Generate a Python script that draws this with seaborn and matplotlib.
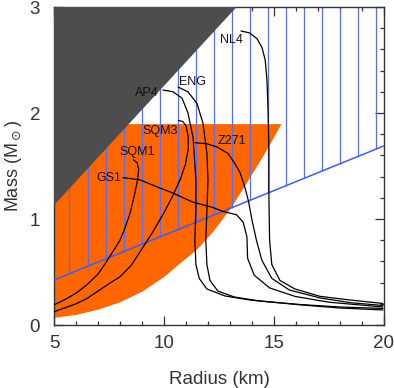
import numpy as np
import matplotlib
matplotlib.use("Agg")
import matplotlib.pyplot as plt
import seaborn as sns

# excluded corner (upper left)
dark_r = [5.0, 13.3, 5.0]
dark_m = [1.13, 3.0, 3.0]

# orange band: flat top, curved lower/right edge
orange_top = 1.9
orange_r = [15.32, 14.5, 13.7, 13.0, 12.2, 11.5, 10.8, 10.0, 9.0, 8.0, 7.0, 6.0, 5.0]
orange_m = [1.90, 1.60, 1.33, 1.10, 0.88, 0.72, 0.60, 0.46, 0.32, 0.22, 0.15, 0.10, 0.072]

# blue limit line and vertical hatching above it
blue_r = [5.0, 20.0]
blue_m = [0.425, 1.69]
hatch_r = [5.68, 6.55, 7.36, 8.18, 9.0, 9.82, 10.64, 11.45, 12.27, 13.09,
           13.91, 14.73, 15.55, 16.36, 17.18, 18.0, 18.82, 19.64]

# mass-radius curves
gs1_r = [8.14, 8.9, 9.6, 10.4, 11.3, 12.2, 12.7, 13.3, 13.6, 13.77, 13.8, 14.1, 14.8, 15.95, 17.5, 19.95]
gs1_m = [1.39, 1.37, 1.31, 1.245, 1.16, 1.11, 1.07, 1.04, 0.97, 0.83, 0.63, 0.47, 0.35, 0.27, 0.215, 0.17]

sqm1_r = [5.0, 5.5, 6.0, 6.5, 7.0, 7.3, 7.7, 8.0, 8.2, 8.45, 8.65, 8.8, 8.85, 8.78, 8.6]
sqm1_m = [0.19, 0.24, 0.30, 0.38, 0.48, 0.57, 0.70, 0.80, 0.90, 1.05, 1.22, 1.37, 1.47, 1.53, 1.56]

sqm3_r = [5.0, 6.0, 6.5, 7.0, 7.5, 8.0, 8.5, 9.0, 9.5, 10.0, 10.4, 10.75, 10.98, 11.1, 11.1, 11.0, 10.85, 10.65]
sqm3_m = [0.125, 0.20, 0.25, 0.32, 0.39, 0.455, 0.56, 0.72, 0.88, 1.06, 1.22, 1.38, 1.52, 1.66, 1.78, 1.88, 1.92, 1.93]

ap4_r = [9.95, 10.41, 10.82, 11.09, 11.32, 11.45, 11.45, 11.4, 11.45, 11.6, 11.95, 12.77, 13.9, 16.2, 18.0, 19.95]
ap4_m = [2.217, 2.20, 2.14, 2.0, 1.77, 1.37, 1.08, 0.80, 0.57, 0.44, 0.34, 0.274, 0.236, 0.19, 0.16, 0.142]

eng_r = [10.64, 11.09, 11.5, 11.77, 11.95, 12.0, 11.95, 11.9, 11.95, 12.09, 12.45, 13.2, 14.36, 16.2, 18.0, 19.95]
eng_m = [2.245, 2.20, 2.09, 1.905, 1.62, 1.37, 1.08, 0.80, 0.57, 0.42, 0.32, 0.264, 0.226, 0.193, 0.17, 0.156]

z271_r = [11.4, 11.95, 12.4, 12.9, 13.2, 13.45, 13.65, 13.85, 14.0, 14.2, 14.45, 14.9, 15.7, 17.1, 18.5, 19.95]
z271_m = [1.72, 1.71, 1.68, 1.62, 1.53, 1.44, 1.32, 1.16, 0.99, 0.80, 0.61, 0.44, 0.33, 0.255, 0.21, 0.184]

nl4_r = [13.5, 13.9, 14.23, 14.45, 14.6, 14.68, 14.73, 14.77, 14.77, 14.8, 14.9, 15.27, 15.95, 17.1, 18.45, 19.95]
nl4_m = [2.774, 2.755, 2.70, 2.62, 2.50, 2.31, 2.03, 1.65, 1.18, 0.80, 0.57, 0.42, 0.34, 0.27, 0.236, 0.203]

curve_names = ["GS1", "SQM1", "SQM3", "AP4", "ENG", "Z271", "NL4"]
curve_r = [gs1_r, sqm1_r, sqm3_r, ap4_r, eng_r, z271_r, nl4_r]
curve_m = [gs1_m, sqm1_m, sqm3_m, ap4_m, eng_m, z271_m, nl4_m]
label_r = [7.5, 8.77, 9.82, 9.23, 11.27, 13.1, 13.05]
label_m = [1.39, 1.63, 1.83, 2.19, 2.29, 1.74, 2.69]

sns.set_style("ticks")
plt.rcParams['font.family'] = ['Liberation Sans', 'DejaVu Sans']
plt.rcParams['mathtext.fontset'] = 'dejavusans'

fig = plt.figure(figsize=(3.94, 3.88), dpi=100)
ax = fig.add_axes([54 / 394, 1 - 325 / 388, 330 / 394, 318 / 388])

ax.fill_between(orange_r[::-1], orange_m[::-1], orange_top, color='#ff6600', lw=0, zorder=1)

hatch_lo = np.interp(hatch_r, blue_r, blue_m)
ax.vlines(hatch_r, hatch_lo, 3.0, color='#5a6cf5', lw=0.9, zorder=2)
sns.lineplot(x=blue_r, y=blue_m, color='#3f5cf0', lw=1.1, ax=ax, zorder=3)

ax.fill(dark_r, dark_m, color='#4d4d4d', lw=0, zorder=4)

for name, r, m in zip(curve_names, curve_r, curve_m):
    sns.lineplot(x=r, y=m, sort=False, estimator=None, color='black', lw=0.9, ax=ax, zorder=5)

for name, r, m in zip(curve_names, label_r, label_m):
    ax.text(r, m, name, fontsize=9, ha='center', va='center', color='#111111', zorder=6)

ax.set_xlim(5, 20)
ax.set_ylim(0, 3)
ax.set_xticks([5, 10, 15, 20])
ax.set_yticks([0, 1, 2, 3])
ax.set_xticks(np.arange(5, 21, 1), minor=True)
ax.set_yticks(np.arange(0, 3.01, 0.2), minor=True)
ax.tick_params(which='both', direction='in', top=True, right=True, colors='#333333',
               labelsize=13.5)
ax.tick_params(axis='x', which='major', pad=7)
ax.tick_params(axis='y', which='major', pad=10)
ax.tick_params(which='major', length=6.5, width=0.9)
ax.tick_params(which='minor', length=3, width=0.9)
for sp in ax.spines.values():
    sp.set_color('#333333')
    sp.set_linewidth(1.0)

ax.set_xlabel('Radius (km)', fontsize=13.5, color='#333333', labelpad=14)
ax.set_ylabel(r'Mass (M$_\odot$)', fontsize=13, color='#333333', labelpad=4)

fig.savefig('out.png', dpi=100)
